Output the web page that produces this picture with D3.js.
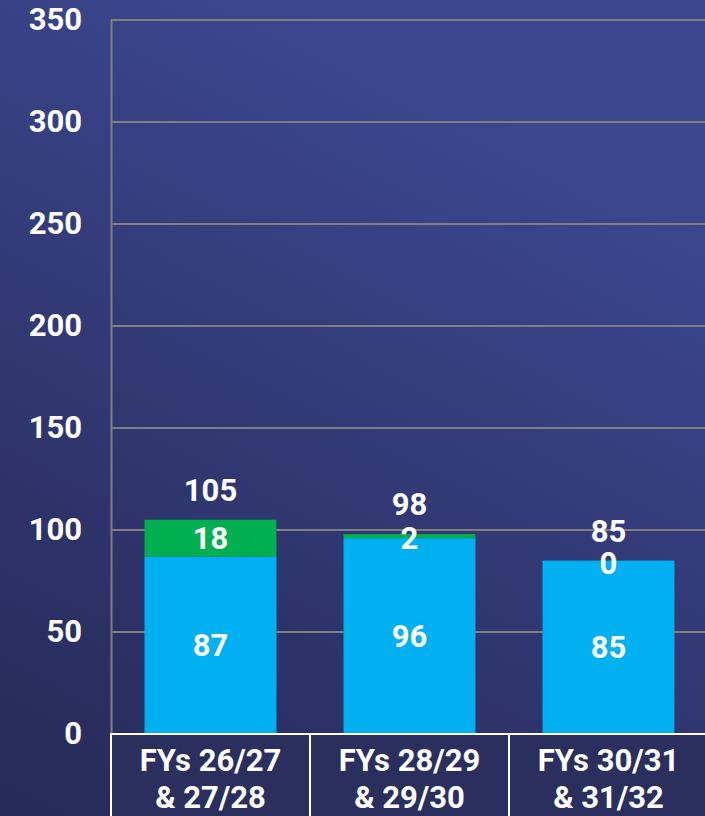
<!DOCTYPE html>
<html>
<head>
<meta charset="utf-8">
<script src="https://cdn.jsdelivr.net/npm/d3@7"></script>
<style>
  html, body { margin: 0; padding: 0; background: #2b3060; overflow: hidden; }
  svg { display: block; font-family: Roboto, "Noto Sans", sans-serif; font-weight: 700; }
</style>
</head>
<body>
<div id="chart"></div>
<script>
// chart data
var categories = [["FYs 26/27", "& 27/28"], ["FYs 28/29", "& 29/30"], ["FYs 30/31", "& 31/32"]];
var baseValues = [87, 96, 85];
var topValues = [18, 2, 0];
var yTicks = [0, 50, 100, 150, 200, 250, 300, 350];

var svgWidth = 705;
var svgHeight = 816;
var margin = {top: 20, right: -3, bottom: 82, left: 111};
var width = svgWidth - margin.left - margin.right;
var height = svgHeight - margin.top - margin.bottom;

var svg = d3.select("#chart").append("svg")
    .attr("width", svgWidth)
    .attr("height", svgHeight);

// background gradient
var defs = svg.append("defs");
var grad = defs.append("linearGradient")
    .attr("id", "bg")
    .attr("x1", "0%").attr("y1", "100%")
    .attr("x2", "45%").attr("y2", "0%");
grad.append("stop").attr("offset", "0%").attr("stop-color", "#262a58");
grad.append("stop").attr("offset", "50%").attr("stop-color", "#313872");
grad.append("stop").attr("offset", "100%").attr("stop-color", "#3c4790");
svg.append("rect").attr("width", svgWidth).attr("height", svgHeight).attr("fill", "url(#bg)");

var g = svg.append("g").attr("transform", `translate(${margin.left}, ${margin.top})`);

var x = d3.scaleBand()
    .domain(d3.range(categories.length))
    .range([0, width])
    .paddingInner(0.337)
    .paddingOuter(0.1685);

var y = d3.scaleLinear().domain([0, 350]).range([height, 0]);

// gridlines
g.append("g")
    .selectAll("line")
    .data(yTicks.filter(function(d) { return d > 0; }))
    .enter().append("line")
    .attr("x1", 0).attr("x2", width)
    .attr("y1", function(d) { return y(d); })
    .attr("y2", function(d) { return y(d); })
    .attr("stroke", "#7f7f7f")
    .attr("stroke-width", 2);

// y axis
var yAxis = g.append("g").call(d3.axisLeft(y).tickValues(yTicks).tickSize(0).tickPadding(29));
yAxis.select(".domain").attr("stroke", "#7f7f7f").attr("stroke-width", 2);
yAxis.selectAll("text")
    .attr("fill", "#ffffff")
    .style("font-size", "31px")
    .style("font-family", "Roboto, sans-serif")
    .style("font-weight", 700);

// bars
g.append("g").selectAll("rect")
    .data(baseValues)
    .enter().append("rect")
    .attr("x", function(d, i) { return x(i); })
    .attr("width", x.bandwidth())
    .attr("y", function(d) { return y(d); })
    .attr("height", function(d) { return y(0) - y(d); })
    .attr("fill", "#00b0f0");

g.append("g").selectAll("rect")
    .data(topValues)
    .enter().append("rect")
    .attr("x", function(d, i) { return x(i); })
    .attr("width", x.bandwidth())
    .attr("y", function(d, i) { return y(baseValues[i] + d); })
    .attr("height", function(d) { return y(0) - y(d); })
    .attr("fill", "#00b050");

// labels
var labelStyle = function(sel) {
    sel.attr("text-anchor", "middle")
       .attr("dy", "0.36em")
       .attr("fill", "#ffffff")
       .style("font-size", "31px");
};

g.append("g").selectAll("text")
    .data(baseValues)
    .enter().append("text")
    .attr("x", function(d, i) { return x(i) + x.bandwidth() / 2; })
    .attr("y", function(d) { return y(d / 2); })
    .call(labelStyle)
    .text(function(d) { return d; });

g.append("g").selectAll("text")
    .data(topValues)
    .enter().append("text")
    .attr("x", function(d, i) { return x(i) + x.bandwidth() / 2; })
    .attr("y", function(d, i) { return y(baseValues[i] + d / 2) + (d < 3 ? 2 : 0); })
    .call(labelStyle)
    .text(function(d) { return d; });

g.append("g").selectAll("text")
    .data(baseValues)
    .enter().append("text")
    .attr("x", function(d, i) { return x(i) + x.bandwidth() / 2; })
    .attr("y", function(d, i) { return y(d + topValues[i]) - 30; })
    .call(labelStyle)
    .text(function(d, i) { return d + topValues[i]; });

// category boxes
var step = x.step();
var boxes = g.append("g").attr("transform", `translate(0, ${height})`);
boxes.selectAll("rect")
    .data(categories)
    .enter().append("rect")
    .attr("x", function(d, i) { return i * step; })
    .attr("y", 0)
    .attr("width", step)
    .attr("height", margin.bottom + 10)
    .attr("fill", "#2a2f5e")
    .attr("stroke", "#ffffff")
    .attr("stroke-width", 2);

boxes.selectAll("text")
    .data(categories)
    .enter().append("text")
    .attr("text-anchor", "middle")
    .attr("fill", "#ffffff")
    .style("font-size", "31px")
    .attr("x", function(d, i) { return i * step + step / 2; })
    .attr("y", 0)
    .each(function(d) {
        var t = d3.select(this);
        t.append("tspan").attr("x", t.attr("x")).attr("y", 37).text(d[0]);
        t.append("tspan").attr("x", t.attr("x")).attr("y", 74).text(d[1]);
    });
</script>
</body>
</html>
